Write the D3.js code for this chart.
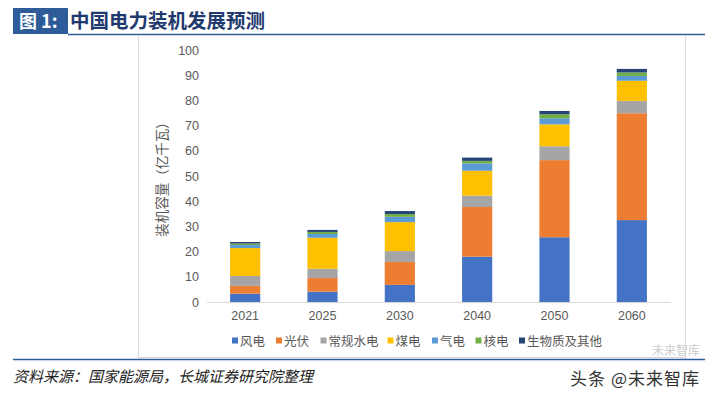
<!DOCTYPE html>
<html>
<head>
<meta charset="utf-8">
<script src="https://cdn.jsdelivr.net/npm/d3@7/dist/d3.min.js"></script>
<style>
  body { margin: 0; background: #fff; }
  svg { display: block; font-family: "Noto Sans CJK SC", "Liberation Sans", sans-serif; }
</style>
</head>
<body>
<div id="chart"></div>
<script>
// data (亿千瓦)
const years = ["2021", "2025", "2030", "2040", "2050", "2060"];
const seriesNames = ["风电", "光伏", "常规水电", "煤电", "气电", "核电", "生物质及其他"];
const wind    = [3.3, 4.1, 6.8, 18.0, 25.7, 32.5];
const solar   = [3.1, 5.4, 9.1, 19.7, 30.6, 42.4];
const hydro   = [3.9, 3.7, 4.3, 4.5, 5.5, 4.9];
const coal    = [11.1, 12.3, 11.5, 9.9, 8.7, 8.0];
const gas     = [1.2, 1.5, 2.1, 2.9, 2.4, 1.9];
const nuclear = [0.6, 0.8, 1.1, 1.0, 1.6, 1.4];
const other   = [0.6, 0.8, 1.2, 1.3, 1.3, 1.4];
const yTicks = d3.range(0, 101, 10);

const colors = ["#4472C4", "#ED7D31", "#A5A5A5", "#FFC000", "#5B9BD5", "#70AD47", "#264478"];

const width = 705, height = 395;
const svg = d3.select("#chart").append("svg")
    .attr("width", width)
    .attr("height", height);

// title bar
svg.append("rect").attr("x", 13).attr("y", 8).attr("width", 55).attr("height", 26).attr("fill", "#2E5C9A");
svg.append("text").attr("x", 19).attr("y", 28)
    .attr("fill", "#fff").attr("font-size", 18).attr("font-weight", "bold")
    .attr("font-family", "'Noto Sans CJK SC', 'Liberation Serif', serif")
    .text("图 1:");
svg.append("text").attr("x", 70).attr("y", 28)
    .attr("fill", "#1F3A6E").attr("font-size", 19.5).attr("font-weight", "bold")
    .text("中国电力装机发展预测");
svg.append("line").attr("x1", 68).attr("x2", 705).attr("y1", 34.5).attr("y2", 34.5)
    .attr("stroke", "#2E5C9A").attr("stroke-width", 1.5);

// chart frame
svg.append("rect").attr("x", 138.5).attr("y", 35.5).attr("width", 547).attr("height", 322)
    .attr("fill", "none").attr("stroke", "#D9D9D9").attr("stroke-width", 1);

// bottom line
svg.append("line").attr("x1", 13).attr("x2", 705).attr("y1", 359.5).attr("y2", 359.5)
    .attr("stroke", "#2E5C9A").attr("stroke-width", 1.5);

const x = d3.scaleBand().domain(years).range([206.5, 670.5]).paddingInner(0.61).paddingOuter(0.305);
const y = d3.scaleLinear().domain([0, 100]).range([302, 50]);

const table = years.map((yr, i) => ({
    year: yr,
    "风电": wind[i], "光伏": solar[i], "常规水电": hydro[i], "煤电": coal[i],
    "气电": gas[i], "核电": nuclear[i], "生物质及其他": other[i]
}));
const stacked = d3.stack().keys(seriesNames)(table);

// y axis labels
const yAxis = svg.append("g").attr("transform", "translate(199,0)")
    .call(d3.axisLeft(y).tickValues(yTicks).tickSize(0).tickPadding(0));
yAxis.select(".domain").remove();
yAxis.selectAll("text").attr("fill", "#595959").attr("font-size", 12.5)
    .attr("font-family", "'Liberation Sans', Arial, sans-serif");

svg.append("text")
    .attr("transform", "translate(167,176) rotate(-90)")
    .attr("text-anchor", "middle").attr("fill", "#595959").attr("font-size", 13.5)
    .text("装机容量（亿千瓦）");

// bars
svg.append("g").selectAll("g").data(stacked).join("g")
    .attr("fill", (d, i) => colors[i])
    .selectAll("rect").data(d => d).join("rect")
    .attr("x", d => x(d.data.year))
    .attr("width", x.bandwidth())
    .attr("y", d => y(d[1]))
    .attr("height", d => y(d[0]) - y(d[1]));

// x axis
const xAxis = svg.append("g").attr("transform", "translate(0,302)")
    .call(d3.axisBottom(x).tickSize(0).tickPadding(9));
xAxis.select(".domain").attr("stroke", "#D9D9D9");
xAxis.selectAll("text").attr("fill", "#595959").attr("font-size", 12.5)
    .attr("font-family", "'Liberation Sans', Arial, sans-serif");

// legend
const legendX = [232, 276, 320.5, 387.5, 432, 475.5, 519];
const legend = svg.append("g").selectAll("g").data(seriesNames).join("g")
    .attr("transform", (d, i) => `translate(${legendX[i]},341)`);
legend.append("rect").attr("x", 0).attr("y", -3.5).attr("width", 6).attr("height", 6)
    .attr("fill", (d, i) => colors[i]);
legend.append("text").attr("x", 8).attr("y", 4.5)
    .attr("fill", "#595959").attr("font-size", 12.5).text(d => d);

// source
svg.append("text").attr("x", 13).attr("y", 382)
    .attr("fill", "#222").attr("font-size", 15).attr("font-style", "italic")
    .text("资料来源：国家能源局，长城证券研究院整理");

// watermark
svg.append("text").attr("x", 700).attr("y", 355)
    .attr("text-anchor", "end").attr("fill", "#ccc").attr("font-size", 12)
    .text("未来智库");
svg.append("text").attr("x", 700).attr("y", 385)
    .attr("text-anchor", "end").attr("fill", "#333").attr("font-size", 17)
    .attr("letter-spacing", 1)
    .text("头条 @未来智库");
</script>
</body>
</html>
